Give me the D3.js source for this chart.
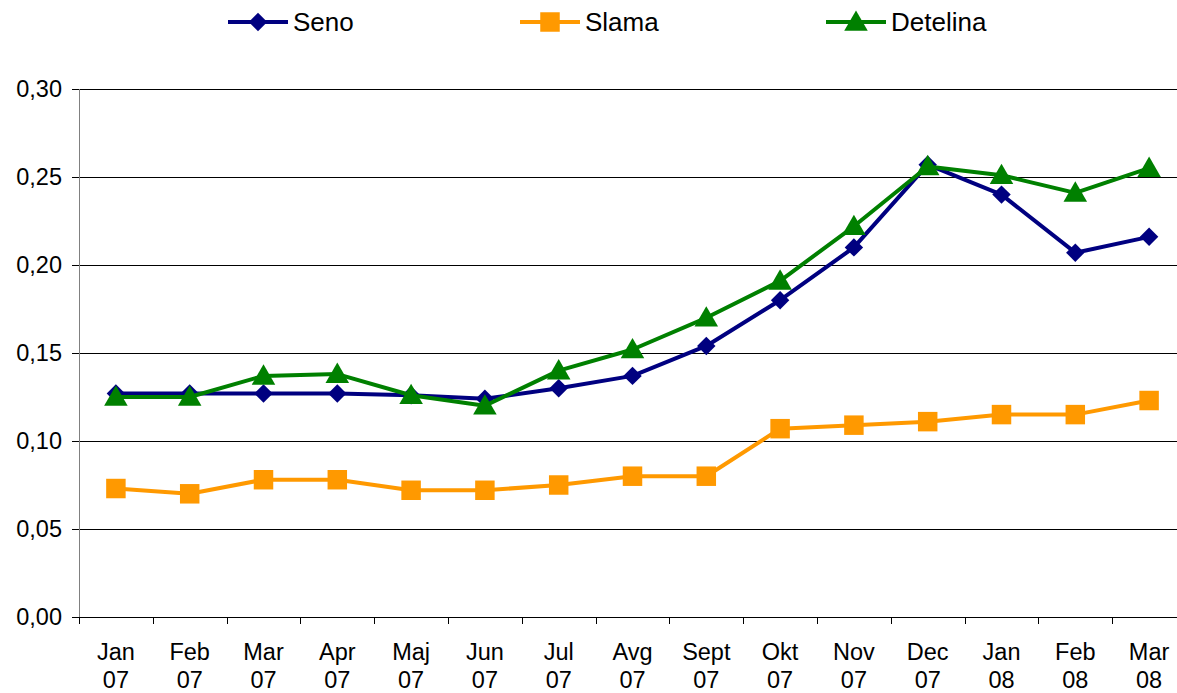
<!DOCTYPE html>
<html>
<head>
<meta charset="utf-8">
<script src="https://cdn.jsdelivr.net/npm/d3@7"></script>
<style>
  body { margin: 0; background: #fff; }
  svg { display: block; font-family: "Liberation Sans", Arial, sans-serif; }
</style>
</head>
<body>
<svg id="chart" width="1177" height="693"></svg>
<script>
// months, two-line labels
var months = ['Jan', 'Feb', 'Mar', 'Apr', 'Maj', 'Jun', 'Jul', 'Avg', 'Sept', 'Okt', 'Nov', 'Dec', 'Jan', 'Feb', 'Mar'];
var years = ['07', '07', '07', '07', '07', '07', '07', '07', '07', '07', '07', '07', '08', '08', '08'];

var seno = [0.127, 0.127, 0.127, 0.127, 0.126, 0.124, 0.130, 0.137, 0.154, 0.180, 0.210, 0.257, 0.240, 0.207, 0.216];
var slama = [0.073, 0.070, 0.078, 0.078, 0.072, 0.072, 0.075, 0.080, 0.080, 0.107, 0.109, 0.111, 0.115, 0.115, 0.123];
var detelina = [0.125, 0.125, 0.137, 0.138, 0.126, 0.120, 0.140, 0.152, 0.170, 0.191, 0.222, 0.256, 0.251, 0.241, 0.255];

var yTicks = [0, 0.05, 0.10, 0.15, 0.20, 0.25, 0.30];

// square diamond (d3's diamond is too narrow)
var squareDiamond = {
  draw: function(ctx, size) {
    var r = Math.sqrt(size / 2);
    ctx.moveTo(0, -r); ctx.lineTo(r, 0); ctx.lineTo(0, r); ctx.lineTo(-r, 0); ctx.closePath();
  }
};

var series = [
  { name: 'Seno', values: seno, color: '#000080', symbol: squareDiamond, size: 170, dy: 0 },
  { name: 'Slama', values: slama, color: '#FF9900', symbol: d3.symbolSquare, size: 380, dy: 0 },
  { name: 'Detelina', values: detelina, color: '#008000', symbol: d3.symbolTriangle, size: 240, dy: 2 }
];

var margins = { left: 79, top: 89, right: -9, bottom: 76 };
var width = 1177, height = 693;

var svg = d3.select('#chart');

var idx = d3.range(months.length);
var x = d3.scaleBand()
  .domain(idx)
  .range([margins.left, width - margins.right]);
var y = d3.scaleLinear()
  .domain([0, 0.30])
  .range([height - margins.bottom, margins.top]);

var fmt = function(d) { return d3.format('.2f')(d).replace('.', ','); };

// gridlines + y axis
var yAxis = svg.append('g')
  .attr('transform', 'translate(' + margins.left + ',0)')
  .call(d3.axisLeft(y).tickValues(yTicks).tickFormat(fmt)
    .tickSize(-(width - margins.right - margins.left)).tickPadding(17));
yAxis.select('.domain').remove();
yAxis.selectAll('.tick line')
  .attr('stroke', '#000')
  .attr('x1', -7)
  .attr('shape-rendering', 'crispEdges');
yAxis.selectAll('.tick text')
  .attr('font-size', 23.5)
  .attr('fill', '#000');

svg.append('line')
  .attr('x1', margins.left).attr('x2', margins.left)
  .attr('y1', margins.top).attr('y2', y(0))
  .attr('stroke', '#808080')
  .attr('shape-rendering', 'crispEdges');

// x axis ticks at category boundaries
var xg = svg.append('g');
xg.selectAll('line.xt')
  .data(d3.range(months.length + 1))
  .enter().append('line')
  .attr('class', 'xt')
  .attr('x1', function(i) { return Math.round(margins.left + i * x.step()) + 0.5; })
  .attr('x2', function(i) { return Math.round(margins.left + i * x.step()) + 0.5; })
  .attr('y1', y(0)).attr('y2', y(0) + 7)
  .attr('stroke', '#000');

var xl = xg.selectAll('text.xl')
  .data(idx)
  .enter().append('text')
  .attr('class', 'xl')
  .attr('text-anchor', 'middle')
  .attr('font-size', 23.5)
  .attr('transform', function(i) { return 'translate(' + (x(i) + x.bandwidth() / 2) + ',0)'; });
xl.append('tspan').attr('x', 0).attr('y', 660).text(function(i) { return months[i]; });
xl.append('tspan').attr('x', 0).attr('y', 688).text(function(i) { return years[i]; });

// lines + markers
var line = d3.line()
  .x(function(d, i) { return x(i) + x.bandwidth() / 2; })
  .y(function(d) { return y(d); });

series.forEach(function(s) {
  var g = svg.append('g');
  g.append('path')
    .datum(s.values)
    .attr('d', line)
    .attr('fill', 'none')
    .attr('stroke', s.color)
    .attr('stroke-width', 4)
    .attr('stroke-linejoin', 'round');
  g.selectAll('path.m')
    .data(s.values)
    .enter().append('path')
    .attr('class', 'm')
    .attr('d', d3.symbol().type(s.symbol).size(s.size))
    .attr('transform', function(d, i) {
      return 'translate(' + (x(i) + x.bandwidth() / 2) + ',' + (y(d) + s.dy) + ')';
    })
    .attr('fill', s.color);
});

// legend
var legendX = [228, 520, 826];
series.forEach(function(s, k) {
  var g = svg.append('g').attr('transform', 'translate(' + legendX[k] + ',22)');
  g.append('line')
    .attr('x1', 0).attr('x2', 60)
    .attr('stroke', s.color).attr('stroke-width', 4);
  g.append('path')
    .attr('d', d3.symbol().type(s.symbol).size(s.size))
    .attr('transform', 'translate(30,' + s.dy + ')')
    .attr('fill', s.color);
  g.append('text')
    .attr('x', 65).attr('y', 9)
    .attr('font-size', 26)
    .text(s.name);
});
</script>
</body>
</html>
